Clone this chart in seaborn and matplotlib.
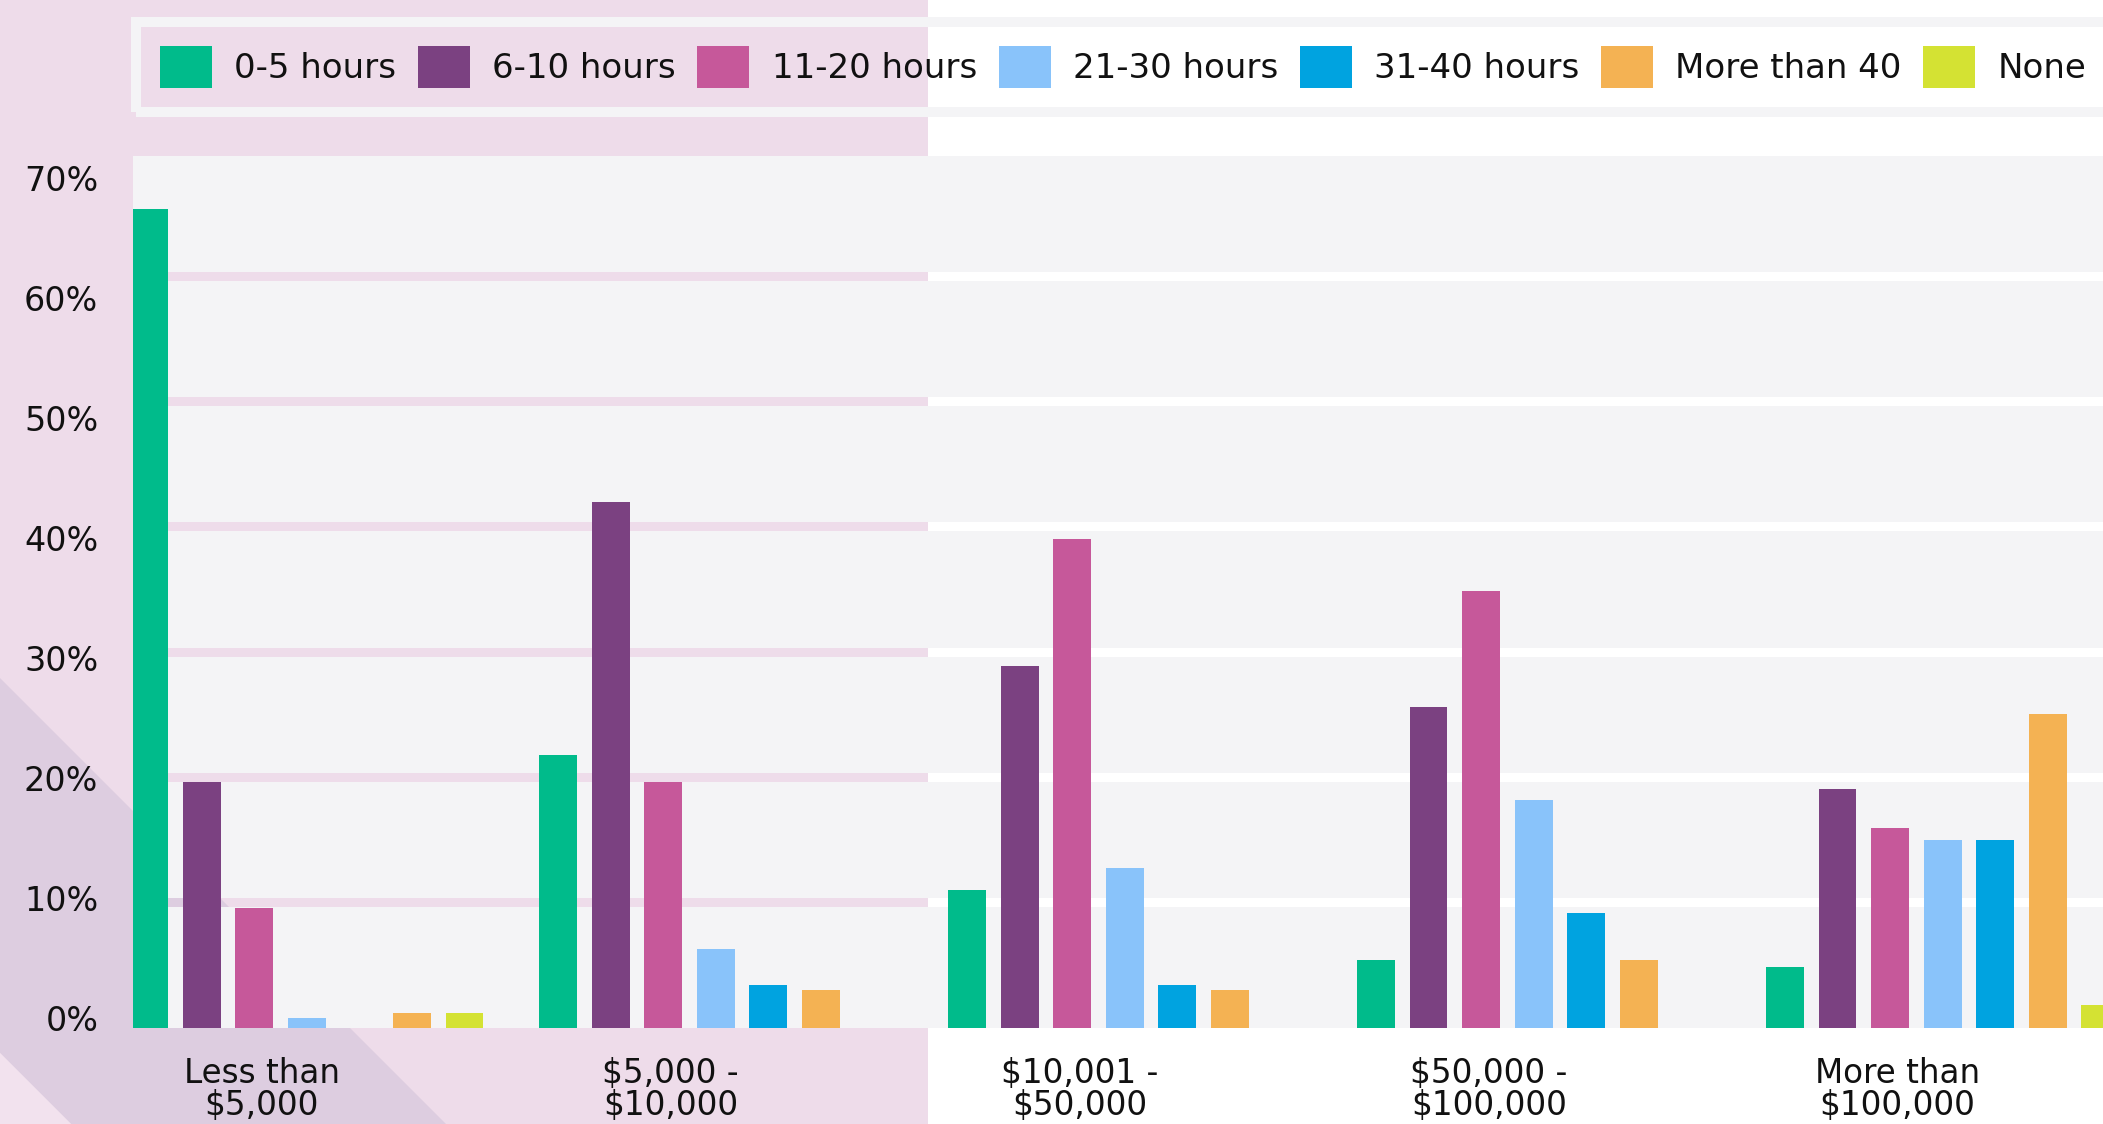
import numpy as np
import pandas as pd
import matplotlib.pyplot as plt
import seaborn as sns
from matplotlib.patches import Polygon, Rectangle
from matplotlib.transforms import ScaledTranslation

# --- data (percent of respondents) ---
incomes = ["Less than\n$5,000", "$5,000 -\n$10,000", "$10,001 -\n$50,000",
           "$50,000 -\n$100,000", "More than\n$100,000"]
hours = ["0-5 hours", "6-10 hours", "11-20 hours", "21-30 hours",
         "31-40 hours", "More than 40", "None"]
h_0_5 = [65.4, 21.8, 11.0, 5.4, 4.9]
h_6_10 = [19.6, 42.0, 28.9, 25.6, 19.1]
h_11_20 = [9.6, 19.6, 39.0, 34.9, 16.0]
h_21_30 = [0.8, 6.3, 12.8, 18.2, 15.0]
h_31_40 = [0.0, 3.4, 3.4, 9.2, 15.0]
h_40_plus = [1.2, 3.0, 3.0, 5.4, 25.1]
h_none = [1.2, 0.0, 0.0, 0.0, 1.8]
y_ticks = [0, 10, 20, 30, 40, 50, 60, 70]

colors = ["#00bb8b", "#7b4181", "#c6589a", "#89c3fa", "#00a3e0", "#f4b253", "#d4e233"]

series = [h_0_5, h_6_10, h_11_20, h_21_30, h_31_40, h_40_plus, h_none]
rows = []
for name, vals in zip(hours, series):
    for inc, v in zip(incomes, vals):
        rows.append({"income": inc, "hours": name, "pct": v})
df = pd.DataFrame(rows)

sns.set_theme(style="white")
plt.rcParams["font.family"] = ["DejaVu Sans"]
plt.rcParams["text.color"] = "#111111"
plt.rcParams["xtick.color"] = "#111111"
plt.rcParams["ytick.color"] = "#111111"

W, H = 2103, 1124
fig = plt.figure(figsize=(W / 100, H / 100), dpi=100)

# background: pink panel on the left, white on the right, diagonal stripe
bg = fig.add_axes([0, 0, 1, 1])
bg.set_xlim(0, W)
bg.set_ylim(H, 0)
bg.axis("off")
bg.add_patch(Rectangle((0, 0), 928, H, color="#eedcea", lw=0))
bg.add_patch(Rectangle((928, 0), W - 928, H, color="white", lw=0))
bg.add_patch(Polygon([(0, 678), (446, H), (71, H), (0, 1053)], closed=True,
                     color="#ddcde0", lw=0))
bg.add_patch(Polygon([(0, 1053), (71, H), (0, H)], closed=True,
                     color="#f2e2ee", lw=0))

# main axes
ax = fig.add_axes([133 / W, 1 - 1028 / H, 1 - 133 / W, (1028 - 151) / H])
ax.set_facecolor("none")
for k in range(7):
    lo = k * 10 + (0.36 if k > 0 else 0)
    hi = (k + 1) * 10 - 0.36
    ax.axhspan(lo, hi, color="#f4f4f6", lw=0, zorder=0)

sns.barplot(data=df, x="income", y="pct", hue="hours", order=incomes,
            hue_order=hours, palette=colors, width=0.9, gap=0.28,
            saturation=1, linewidth=0, ax=ax, zorder=2)

ax.set_xlim(-0.425, 4.392)
ax.set_ylim(0, 70)
ax.set_xlabel("")
ax.set_ylabel("")
for s in ax.spines.values():
    s.set_visible(False)
ax.grid(False)

# the original's labels drift slightly below the grid lines toward the top
ax.set_yticks([0.8 + 0.958 * v for v in y_ticks])
ax.set_yticklabels([f"{v}%" for v in y_ticks])
ax.tick_params(axis="y", length=0, pad=25, labelsize=24)
ax.tick_params(axis="x", length=0, pad=21, labelsize=23.5)
shift = ScaledTranslation(-0.45, 0, fig.dpi_scale_trans)
for t in ax.get_xticklabels():
    t.set_linespacing(0.95)
    t.set_transform(t.get_transform() + shift)

# legend across the top
old = ax.get_legend()
handles = old.legend_handles
labels = [t.get_text() for t in old.get_texts()]
old.remove()
leg = fig.legend(handles, labels, loc="center left",
                 bbox_to_anchor=(136 / W, 1 - 117 / H, (2110 - 136) / W, 100 / H),
                 mode="expand", ncol=7, fontsize=24.5, handlelength=1.53,
                 handleheight=1.53, handletextpad=0.65, borderpad=0.7,
                 borderaxespad=0, frameon=True, fancybox=False,
                 facecolor="none", edgecolor="#f4f4f6", framealpha=1)
leg.get_frame().set_linewidth(7.2)

fig.savefig("out.png", dpi=100)
